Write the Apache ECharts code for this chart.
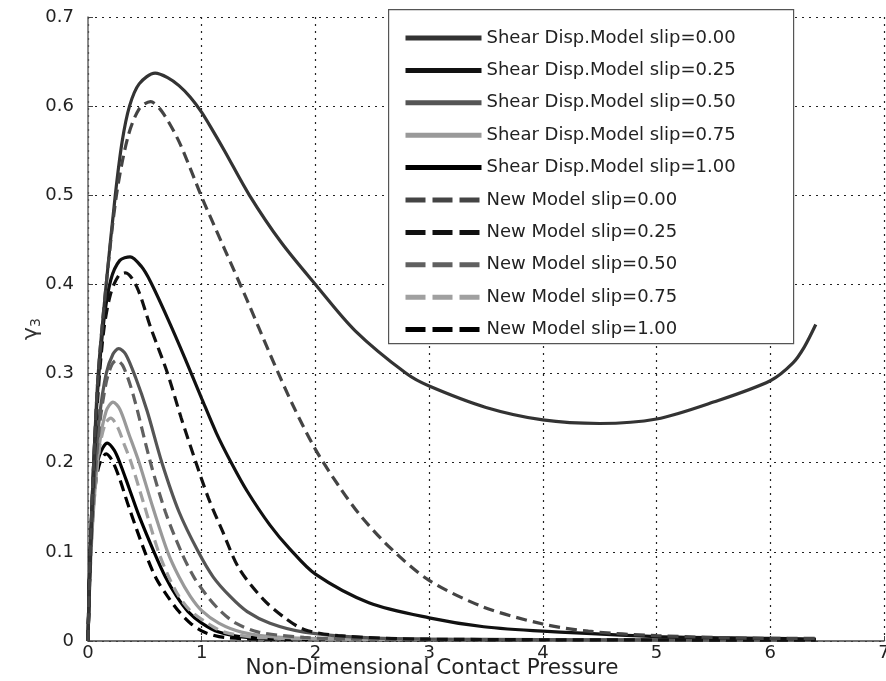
<!DOCTYPE html>
<html><head><meta charset="utf-8">
<script src="https://cdn.jsdelivr.net/npm/echarts@6/dist/echarts.min.js"></script>
<style>html,body{margin:0;padding:0;background:#fff}#c{width:886px;height:681px}</style>
</head><body><div id="c"></div><script>
// ---- data (x = non-dimensional contact pressure, y = gamma_3) ----
const seriesNames = [
  'Shear Disp.Model slip=0.00','Shear Disp.Model slip=0.25','Shear Disp.Model slip=0.50',
  'Shear Disp.Model slip=0.75','Shear Disp.Model slip=1.00',
  'New Model slip=0.00','New Model slip=0.25','New Model slip=0.50',
  'New Model slip=0.75','New Model slip=1.00'
];
const xTickLabels = ['0','1','2','3','4','5','6','7'];
const yTickLabels = ['0','0.1','0.2','0.3','0.4','0.5','0.6','0.7'];

const shear000 = [[0,0],[0.02,0.1],[0.05,0.2],[0.09,0.3],[0.16,0.4],[0.24,0.5],[0.3,0.56],[0.365,0.6],[0.45,0.625],[0.59,0.637],[0.7,0.632],[0.8,0.623],[0.9,0.61],[1.0,0.593],[1.1,0.572],[1.2,0.55],[1.42,0.5],[1.7,0.447],[2.0,0.4],[2.35,0.348],[2.8,0.3],[3.0,0.286],[3.5,0.262],[4.0,0.248],[4.5,0.244],[5.0,0.249],[5.5,0.268],[6.0,0.292],[6.2,0.312],[6.3,0.33],[6.4,0.355]];
const shear025 = [[0,0],[0.02,0.1],[0.05,0.2],[0.09,0.29],[0.14,0.36],[0.2,0.405],[0.28,0.427],[0.37,0.431],[0.47,0.42],[0.55,0.403],[0.7,0.362],[0.85,0.318],[1.0,0.272],[1.13,0.233],[1.26,0.2],[1.4,0.168],[1.6,0.13],[1.77,0.104],[2.0,0.075],[2.47,0.043],[3.0,0.026],[3.48,0.016],[4.0,0.011],[5.0,0.005],[6.0,0.003],[6.4,0.002]];
const shear050 = [[0,0],[0.02,0.09],[0.05,0.17],[0.1,0.25],[0.16,0.3],[0.22,0.322],[0.27,0.328],[0.33,0.322],[0.42,0.295],[0.52,0.258],[0.65,0.2],[0.8,0.145],[0.97,0.1],[1.1,0.072],[1.25,0.05],[1.4,0.033],[1.6,0.02],[1.9,0.01],[2.4,0.004],[3,0.002],[6.4,0.001]];
const shear075 = [[0,0],[0.02,0.08],[0.05,0.15],[0.1,0.22],[0.16,0.258],[0.22,0.268],[0.28,0.26],[0.36,0.232],[0.45,0.2],[0.57,0.15],[0.7,0.1],[0.8,0.072],[0.9,0.05],[1.0,0.034],[1.15,0.02],[1.35,0.01],[1.7,0.004],[2.5,0.002],[6.4,0.001]];
const shear100 = [[0,0],[0.01,0.06],[0.03,0.13],[0.06,0.18],[0.1,0.208],[0.17,0.222],[0.23,0.214],[0.28,0.2],[0.36,0.172],[0.45,0.14],[0.58,0.1],[0.68,0.072],[0.78,0.05],[0.88,0.033],[1.0,0.02],[1.15,0.01],[1.4,0.004],[2.0,0.002],[6.4,0.001]];
const new000 = [[0,0],[0.02,0.1],[0.05,0.2],[0.09,0.3],[0.16,0.4],[0.25,0.5],[0.35,0.565],[0.45,0.597],[0.55,0.605],[0.65,0.594],[0.79,0.563],[0.9,0.53],[1.0,0.498],[1.2,0.44],[1.4,0.382],[1.6,0.322],[1.8,0.265],[2.0,0.215],[2.2,0.175],[2.4,0.14],[2.67,0.103],[3.0,0.068],[3.48,0.038],[4.0,0.019],[4.4,0.011],[5.0,0.006],[6.0,0.003],[6.4,0.003]];
const new025 = [[0,0],[0.02,0.1],[0.05,0.19],[0.09,0.28],[0.14,0.35],[0.2,0.39],[0.27,0.41],[0.33,0.413],[0.43,0.397],[0.55,0.352],[0.7,0.3],[0.82,0.25],[0.95,0.2],[1.06,0.16],[1.18,0.124],[1.33,0.081],[1.54,0.047],[1.72,0.027],[1.9,0.013],[2.2,0.006],[3.0,0.002],[6.4,0.001]];
const new050 = [[0,0],[0.02,0.09],[0.05,0.16],[0.1,0.24],[0.16,0.29],[0.21,0.31],[0.25,0.315],[0.31,0.308],[0.4,0.275],[0.55,0.2],[0.68,0.145],[0.82,0.1],[0.93,0.072],[1.05,0.05],[1.17,0.033],[1.3,0.02],[1.5,0.01],[1.9,0.004],[2.5,0.002],[6.4,0.001]];
const new075 = [[0,0],[0.02,0.08],[0.05,0.15],[0.1,0.215],[0.15,0.243],[0.2,0.25],[0.26,0.24],[0.32,0.22],[0.38,0.2],[0.5,0.15],[0.62,0.1],[0.71,0.072],[0.8,0.05],[0.9,0.034],[1.05,0.02],[1.2,0.01],[1.5,0.004],[2.2,0.002],[6.4,0.001]];
const new100 = [[0,0],[0.01,0.06],[0.03,0.12],[0.06,0.17],[0.1,0.198],[0.16,0.21],[0.21,0.203],[0.27,0.185],[0.36,0.15],[0.5,0.1],[0.6,0.07],[0.7,0.05],[0.8,0.033],[0.9,0.02],[1.02,0.01],[1.2,0.004],[1.6,0.002],[6.4,0.001]];

const seriesData = [shear000, shear025, shear050, shear075, shear100, new000, new025, new050, new075, new100];
const seriesColors = ['#333333','#111111','#555555','#999999','#000000','#444444','#111111','#606060','#a0a0a0','#000000'];

const FONT = '"DejaVu Sans", Verdana, sans-serif';
const chart = echarts.init(document.getElementById('c'), null, {renderer: 'canvas'});

const series = seriesData.map((d, i) => ({
  name: seriesNames[i],
  type: 'line',
  data: d,
  smooth: 0.3,
  symbol: 'circle',
  showSymbol: false,
  z: 10 - (i % 5),
  lineStyle: {
    color: seriesColors[i],
    width: 3.2,
    type: i >= 5 ? [11, 6] : 'solid'
  },
  itemStyle: { color: seriesColors[i] }
}));

const legendData = seriesNames.map((n, i) => ({
  name: n,
  itemStyle: { opacity: 0 },
  lineStyle: { width: 5, type: i >= 5 ? [20, 7] : 'solid', color: seriesColors[i] }
}));

chart.setOption({
  animation: false,
  backgroundColor: '#ffffff',
  grid: { left: 88, right: 2, top: 17, bottom: 40, containLabel: false, outerBoundsMode: 'none' },
  graphic: [{
    type: 'rect', left: 388, top: 9, z: 5,
    shape: { width: 405, height: 334 },
    style: { fill: '#ffffff', stroke: '#555', lineWidth: 1.2 }
  }],
  legend: {
    data: legendData,
    orient: 'vertical',
    left: 398, top: 24,
    itemWidth: 76, itemHeight: 14, itemGap: 14.4,
    z: 8,
    itemStyle: { opacity: 0 },
    textStyle: { fontFamily: FONT, fontSize: 18, color: '#222', lineHeight: 18 },
    selectedMode: false
  },
  xAxis: {
    type: 'value', min: 0, max: 7, interval: 1,
    name: 'Non-Dimensional Contact Pressure',
    nameLocation: 'middle', nameGap: 16, nameMoveOverlap: false,
    nameTextStyle: { fontFamily: FONT, fontSize: 21.5, color: '#222', padding: [0, 108, 0, 0] },
    axisLine: { show: true, lineStyle: { color: '#444', width: 1.5 } },
    axisTick: { show: true, inside: true, length: 5, lineStyle: { color: '#444' } },
    axisLabel: { fontFamily: FONT, fontSize: 18, color: '#222', margin: 3,
      formatter: v => xTickLabels[Math.round(v)] },
    splitLine: { show: true, lineStyle: { color: '#222', type: [2, 5], width: 1.2 } }
  },
  yAxis: {
    type: 'value', min: 0, max: 0.7, interval: 0.1,
    name: '{g|γ}{s|3}',
    nameLocation: 'middle', nameGap: 45, nameRotate: 90, nameMoveOverlap: false,
    nameTextStyle: { fontFamily: FONT, color: '#333',
      rich: { g: { fontSize: 22, fontFamily: FONT, color: '#333' },
              s: { fontSize: 14, fontFamily: FONT, color: '#333', padding: [10, 0, 0, 0] } } },
    axisLine: { show: true, lineStyle: { color: '#666', width: 1.5 } },
    axisTick: { show: true, inside: true, length: 5, lineStyle: { color: '#444' } },
    axisLabel: { fontFamily: FONT, fontSize: 18, color: '#222', margin: 14,
      formatter: v => yTickLabels[Math.round(v * 10)] },
    splitLine: { show: true, lineStyle: { color: '#222', type: [2, 5], width: 1.2 } }
  },
  series: series
});
</script></body></html>
